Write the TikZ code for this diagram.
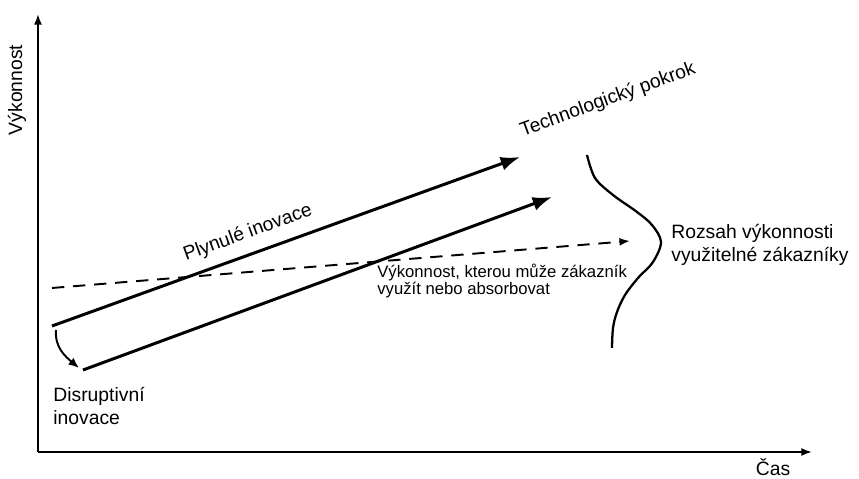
\documentclass[tikz,border=0pt]{standalone}
\usepackage{fontspec}
\setmainfont{Liberation Sans}
\usepackage{tikz}
\usetikzlibrary{positioning,arrows.meta,calc}

\begin{document}
\begin{tikzpicture}[x=0.02cm, y=0.02cm,
    axisline/.style={line width=1pt, -{Latex[length=6pt,width=4.5pt]}},
    innovline/.style={line width=1.7pt, -{Latex[length=11pt,width=8pt]}},
    needline/.style={line width=1.1pt, dash pattern=on 7pt off 5pt, -{Latex[length=6pt,width=4.5pt]}},
    mainlbl/.style={font=\fontsize{11}{12.8}\selectfont, align=left, inner sep=0pt},
    smalllbl/.style={font=\fontsize{9.5}{9.6}\selectfont, align=left, inner sep=0pt}]
  % Rozmery obrazku (px)
  \useasboundingbox (0,0) rectangle (859,479);

  % Osy
  \coordinate (O) at (38,27);
  \coordinate (ytip) at (38,465);
  \coordinate (xtip) at (812,27);
  \draw[axisline] (O) -- (ytip);
  \draw[axisline] (O) -- (xtip);
  \node[mainlbl, rotate=90] (ylbl) at (17,389) {Výkonnost};
  \node[mainlbl] (xlbl) at (773,12) {Čas};

  % Plynule a disruptivni inovace
  \coordinate (a1) at (52,153);
  \coordinate (a2) at (520,322);
  \coordinate (b1) at (83,109);
  \coordinate (b2) at (552,282);
  \draw[innovline] (a1) -- (a2);
  \draw[innovline] (b1) -- (b2);
  \coordinate (c1) at (56,149);
  \coordinate (c2) at (79,111);
  \draw[line width=1.1pt, -{Latex[length=6pt,width=5pt]}] (c1) to[out=-95, in=140] (c2);

  % Vykonnost vyuzitelna zakaznikem
  \coordinate (d1) at (52,191);
  \coordinate (d2) at (630,238);
  \draw[needline] (d1) -- (d2);

  % Rozsah vykonnosti
  \draw[line width=1.3pt] plot[smooth, tension=0.55] coordinates
    {(587,324) (595,301) (613,284) (637,267) (652,254) (661,237) (653,217)
     (638,201) (625,184) (617,167) (613,151) (612,131)};

  % Popisky
  \node[mainlbl, rotate=20] (plyn) at (248,246) {Plynulé inovace};
  \node[mainlbl, rotate=20] (tech) at (608,379) {Technologický pokrok};
  \node[mainlbl, anchor=west] (disr) at (53,73) {Disruptivní\\inovace};
  \node[smalllbl, anchor=west] (need) at (377,198) {Výkonnost, kterou může zákazník\\využít nebo absorbovat};
  \node[mainlbl, anchor=west] (rozs) at (671,234) {Rozsah výkonnosti\\využitelné zákazníky};
\end{tikzpicture}
\end{document}
